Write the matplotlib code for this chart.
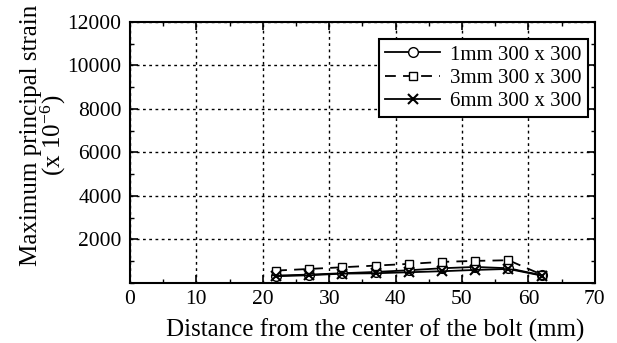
import matplotlib
matplotlib.use("Agg")
import matplotlib.pyplot as plt
from matplotlib.ticker import MultipleLocator

plt.rcParams['font.family'] = ['Liberation Serif', 'DejaVu Serif']
plt.rcParams['mathtext.fontset'] = 'stix'

# --- data ---
distance = [22, 27, 32, 37, 42, 47, 52, 57, 62]
strain_1mm = [340, 385, 447, 507, 585, 677, 737, 677, 355]
strain_3mm = [570, 645, 723, 800, 877, 970, 1015, 1045, 385]
strain_6mm = [310, 355, 430, 447, 493, 540, 600, 645, 340]
labels = ['1mm 300 x 300', '3mm 300 x 300', '6mm 300 x 300']

fig = plt.figure(figsize=(6.17, 3.43), dpi=100)
ax = fig.add_axes([0.2107, 0.175, 0.7533, 0.761])

ax.plot(distance, strain_1mm, '-', color='black', marker='o', markersize=7,
        markerfacecolor='white', markeredgecolor='black', lw=1.3, label=labels[0])
ax.plot(distance, strain_3mm, '--', color='black', marker='s', markersize=6,
        markerfacecolor='white', markeredgecolor='black', lw=1.3, dashes=(6, 4),
        label=labels[1])
ax.plot(distance, strain_6mm, '-', color='black', marker='x', markersize=7,
        markeredgewidth=1.5, lw=1.3, label=labels[2])

ax.set_xlim(0, 70)
ax.set_ylim(0, 12000)
ax.xaxis.set_major_locator(MultipleLocator(10))
ax.xaxis.set_minor_locator(MultipleLocator(5))
ax.yaxis.set_minor_locator(MultipleLocator(1000))
ax.set_yticks([2000, 4000, 6000, 8000, 10000, 12000])

ax.grid(True, which='major', linestyle=(0, (2, 2.5)), color='black', lw=1.0)
ax.tick_params(which='both', direction='in', top=True, right=True, labelsize=15.5)
ax.tick_params(which='major', length=6, width=1.2)
ax.tick_params(which='minor', length=3, width=1.0)
ax.tick_params(axis='x', which='major', pad=5)
ax.tick_params(axis='y', which='major', pad=6)
for s in ax.spines.values():
    s.set_linewidth(1.5)

ax.set_xlabel('Distance from the center of the bolt (mm)', fontsize=18)
ax.xaxis.set_label_coords(0.528, -0.135)
ax.set_ylabel('Maximum principal strain\n(x 10$^{\\mathregular{-6}}$)', fontsize=18,
              linespacing=0.85)
ax.yaxis.set_label_coords(-0.133, 0.567)

leg = ax.legend(loc='upper right', fontsize=15, frameon=True, fancybox=False,
                edgecolor='black', framealpha=1, handlelength=2.6,
                borderpad=0.3, labelspacing=0.17, handletextpad=0.5,
                borderaxespad=0.0, bbox_to_anchor=(0.985, 0.935))
leg.get_frame().set_linewidth(1.5)

fig.savefig('out.png', dpi=100)
